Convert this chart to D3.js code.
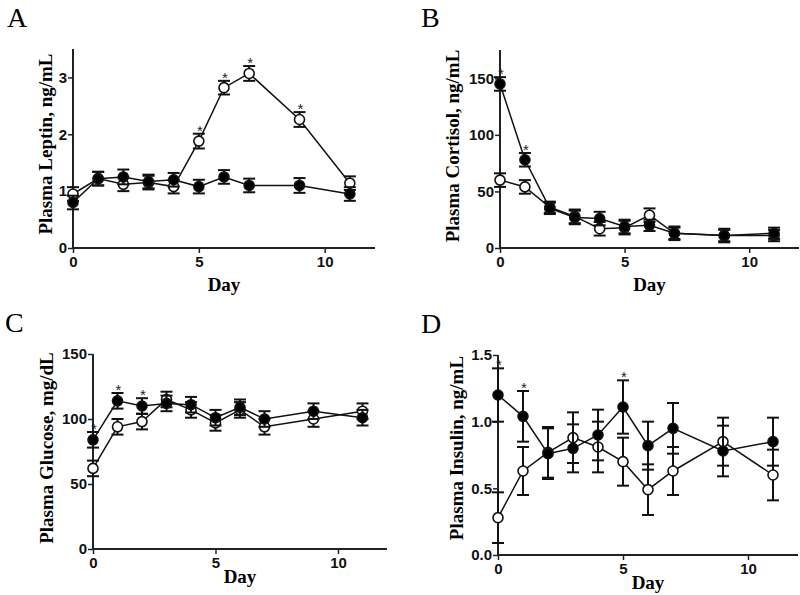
<!DOCTYPE html>
<html><head><meta charset="utf-8">
<script src="https://cdn.jsdelivr.net/npm/d3@7"></script>
<style>body{margin:0;background:#fff}svg{display:block}</style>
</head><body>
<svg id="c" width="800" height="595"></svg>
<script>
const days = [0, 1, 2, 3, 4, 5, 6, 7, 9, 11];
const xTicks = [0, 5, 10];

// Panel A: Leptin
const leptinFilled = [0.80, 1.22, 1.25, 1.17, 1.20, 1.08, 1.25, 1.10, 1.10, 0.95];
const leptinFilledErr = [0.12, 0.12, 0.13, 0.12, 0.12, 0.12, 0.12, 0.12, 0.13, 0.12];
const leptinOpen = [0.95, 1.22, 1.12, 1.15, 1.08, 1.88, 2.82, 3.07, 2.26, 1.14];
const leptinOpenErr = [0.12, 0.12, 0.12, 0.12, 0.12, 0.13, 0.12, 0.13, 0.13, 0.12];
const leptinStarsOpen = [5, 6, 7, 9];
const leptinStarsFilled = [];
const leptinTicks = [0, 1, 2, 3];

// Panel B: Cortisol
const cortFilled = [145, 78, 35, 27, 26, 19, 20, 13, 11, 13];
const cortFilledErr = [6, 6, 5, 6, 6, 6, 5, 6, 6, 5];
const cortOpen = [60, 54, 36, 28, 17, 18, 29, 13, 11, 11];
const cortOpenErr = [6, 6, 5, 6, 6, 6, 6, 5, 5, 5];
const cortStarsOpen = [];
const cortStarsFilled = [0, 1];
const cortTicks = [0, 50, 100, 150];

// Panel C: Glucose
const glucFilled = [84, 114, 110, 112, 111, 101, 109, 100, 106, 101];
const glucFilledErr = [6, 6, 6, 6, 6, 6, 6, 6, 6, 6];
const glucOpen = [62, 94, 98, 115, 107, 97, 107, 94, 100, 106];
const glucOpenErr = [6, 6, 6, 6, 6, 6, 6, 6, 6, 6];
const glucStarsOpen = [];
const glucStarsFilled = [0, 1, 2];
const glucTicks = [0, 50, 100, 150];

// Panel D: Insulin
const insFilled = [1.20, 1.04, 0.76, 0.80, 0.90, 1.11, 0.82, 0.95, 0.78, 0.85];
const insFilledErr = [0.20, 0.19, 0.19, 0.18, 0.19, 0.20, 0.18, 0.19, 0.19, 0.18];
const insOpen = [0.28, 0.63, 0.77, 0.88, 0.81, 0.70, 0.49, 0.63, 0.85, 0.60];
const insOpenErr = [0.19, 0.18, 0.19, 0.19, 0.19, 0.18, 0.19, 0.18, 0.18, 0.19];
const insStarsOpen = [];
const insStarsFilled = [0, 1, 5];
const insTicks = [0, 0.5, 1.0, 1.5];

const panels = [
  {letter:"A", title:"Plasma Leptin, ng/mL", yMax:3.5, ticks:leptinTicks, fmt:d3.format("d"),
   filled:leptinFilled, filledErr:leptinFilledErr, open:leptinOpen, openErr:leptinOpenErr,
   starsF:leptinStarsFilled, starsO:leptinStarsOpen,
   box:{x0:73,x1:375,y0:49,y1:248}, letterPos:[7,27], titlePos:[52,144], dayY:291},
  {letter:"B", title:"Plasma Cortisol, ng/mL", yMax:175, ticks:cortTicks, fmt:d3.format("d"),
   filled:cortFilled, filledErr:cortFilledErr, open:cortOpen, openErr:cortOpenErr,
   starsF:cortStarsFilled, starsO:cortStarsOpen,
   box:{x0:500,x1:799,y0:50,y1:248}, letterPos:[421,27], titlePos:[459,146], dayY:291},
  {letter:"C", title:"Plasma Glucose, mg/dL", yMax:150, ticks:glucTicks, fmt:d3.format("d"),
   filled:glucFilled, filledErr:glucFilledErr, open:glucOpen, openErr:glucOpenErr,
   starsF:glucStarsFilled, starsO:glucStarsOpen,
   box:{x0:93,x1:387,y0:354,y1:549}, letterPos:[5,332], titlePos:[53,448], dayY:583},
  {letter:"D", title:"Plasma Insulin, ng/mL", yMax:1.5, ticks:insTicks, fmt:d3.format(".1f"),
   filled:insFilled, filledErr:insFilledErr, open:insOpen, openErr:insOpenErr,
   starsF:insStarsFilled, starsO:insStarsOpen,
   box:{x0:498,x1:798,y0:355,y1:555}, letterPos:[421,333], titlePos:[463,448], dayY:589}
];

const svg = d3.select("#c");
const serif = "'Liberation Serif','Times New Roman',serif";
const sans = "'Liberation Sans',Arial,sans-serif";

panels.forEach(p => {
  const b = p.box;
  const x = d3.scaleLinear().domain([0, 12]).range([b.x0, b.x1]);
  const y = d3.scaleLinear().domain([0, p.yMax]).range([b.y1, b.y0]);
  const g = svg.append("g");

  g.append("text").attr("x", p.letterPos[0]).attr("y", p.letterPos[1])
    .attr("font-family", serif).attr("font-size", 28).attr("fill", "#000").text(p.letter);

  const xa = g.append("g").attr("transform", `translate(0,${b.y1})`)
    .call(d3.axisBottom(x).tickValues(xTicks).tickSize(5).tickPadding(3).tickFormat(d3.format("d")));
  const ya = g.append("g").attr("transform", `translate(${b.x0},0)`)
    .call(d3.axisLeft(y).tickValues(p.ticks).tickSize(5).tickPadding(1).tickFormat(p.fmt));
  [xa, ya].forEach(a => {
    a.select(".domain").attr("stroke", "#222").attr("stroke-width", 2);
    a.selectAll(".tick line").attr("stroke", "#222").attr("stroke-width", 1.5);
    a.selectAll(".tick text").attr("font-family", sans).attr("font-size", 15)
      .attr("font-weight", "bold").attr("fill", "#111");
  });
  ya.select(".domain").attr("d", `M0,${b.y1}V${b.y0}`);
  xa.select(".domain").attr("d", `M${b.x0},0H${b.x1}`);

  g.append("text").attr("x", (b.x0 + b.x1) / 2).attr("y", p.dayY)
    .attr("text-anchor", "middle").attr("font-family", serif).attr("font-weight", "bold")
    .attr("font-size", 19).attr("fill", "#000").text("Day");
  g.append("text").attr("transform", `translate(${p.titlePos[0]},${p.titlePos[1]}) rotate(-90)`)
    .attr("text-anchor", "middle").attr("font-family", serif).attr("font-weight", "bold")
    .attr("font-size", 19).attr("fill", "#000").text(p.title);

  const series = [
    {vals:p.open, errs:p.openErr, fill:"#fff", stars:p.starsO},
    {vals:p.filled, errs:p.filledErr, fill:"#000", stars:p.starsF}
  ];
  const line = d3.line().x((d, i) => x(days[i])).y(d => y(d));
  series.forEach(s => {
    g.append("path").datum(s.vals).attr("d", line).attr("fill", "none")
      .attr("stroke", "#111").attr("stroke-width", 1.5);
  });
  series.forEach(s => {
    const eg = g.append("g");
    s.vals.forEach((v, i) => {
      const cx = x(days[i]);
      const top = y(v + s.errs[i]), bot = y(v - s.errs[i]);
      eg.append("line").attr("x1", cx).attr("x2", cx).attr("y1", top).attr("y2", bot)
        .attr("stroke", "#111").attr("stroke-width", 2);
      [top, bot].forEach(yy => eg.append("line").attr("x1", cx - 6).attr("x2", cx + 6)
        .attr("y1", yy).attr("y2", yy).attr("stroke", "#111").attr("stroke-width", 2));
    });
    eg.selectAll("circle").data(s.vals).join("circle")
      .attr("cx", (d, i) => x(days[i])).attr("cy", d => y(d)).attr("r", 5)
      .attr("fill", s.fill).attr("stroke", "#111").attr("stroke-width", 1.6);
    s.stars.forEach(dd => {
      const i = days.indexOf(dd);
      g.append("text").attr("x", x(dd) + 1).attr("y", y(s.vals[i] + s.errs[i]) + 2)
        .attr("text-anchor", "middle").attr("font-family", sans).attr("font-size", 15)
        .attr("fill", "#222").text("*");
    });
  });
});
</script>
</body></html>
